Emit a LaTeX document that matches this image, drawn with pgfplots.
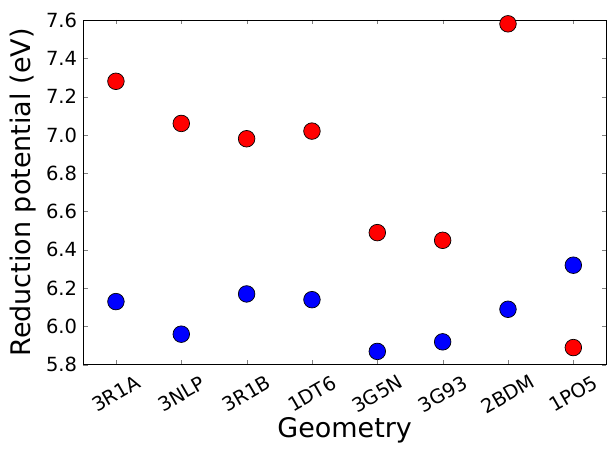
\documentclass[border=0pt]{standalone}
\usepackage{pgfplots}
\pgfplotsset{compat=1.18}
\usepackage{pgfplotstable}
\usepackage{fontspec}
\setmainfont{DejaVu Sans}

% reduction potentials per geometry (index 0..7)
\pgfplotstableread{
x y
0 7.28
1 7.06
2 6.98
3 7.02
4 6.49
5 6.45
6 7.58
7 5.89
}\redpts
\pgfplotstableread{
x y
0 6.13
1 5.96
2 6.17
3 6.14
4 5.87
5 5.92
6 6.09
7 6.32
}\bluepts

\begin{document}
\begin{tikzpicture}
\begin{axis}[
  scale only axis, width=523pt, height=345pt,
  xmin=-0.5, xmax=7.5, ymin=5.8, ymax=7.6,
  xtick={0,...,7},
  xticklabels={3R1A,3NLP,3R1B,1DT6,3G5N,3G93,2BDM,1PO5},
  ytick={5.8,6.0,...,7.61},
  /pgf/number format/assume math mode=true,
  tick align=inside, tick pos=both, major tick length=4.5pt,
  ticklabel style={font=\fontsize{19.5}{23}\selectfont},
  yticklabel style={inner sep=0pt, xshift=-6pt,
    /pgf/number format/.cd,fixed,fixed zerofill,precision=1},
  xticklabel style={yshift=-29pt, rotate=30, anchor=center},
  label style={font=\fontsize{27}{32}\selectfont},
  xlabel={Geometry},
  xlabel style={at={(axis description cs:0.5,-0.212)}, anchor=base},
  ylabel={Reduction potential (eV)},
  ylabel style={at={(axis description cs:-0.1,0.5)}, anchor=base},
  axis line style={line width=0.8pt},
  clip mode=individual,
]
\addplot[only marks, mark=*, mark size=8.3pt,
  mark options={fill=red, draw=black, line width=0.7pt}] table {\redpts};
\addplot[only marks, mark=*, mark size=8.3pt,
  mark options={fill=blue, draw=black, line width=0.7pt}] table {\bluepts};
\end{axis}
\path ([shift={(-83.3pt,-84pt)}]current axis.south west)
  rectangle ([shift={(1pt,20pt)}]current axis.north east);
\end{tikzpicture}
\end{document}
